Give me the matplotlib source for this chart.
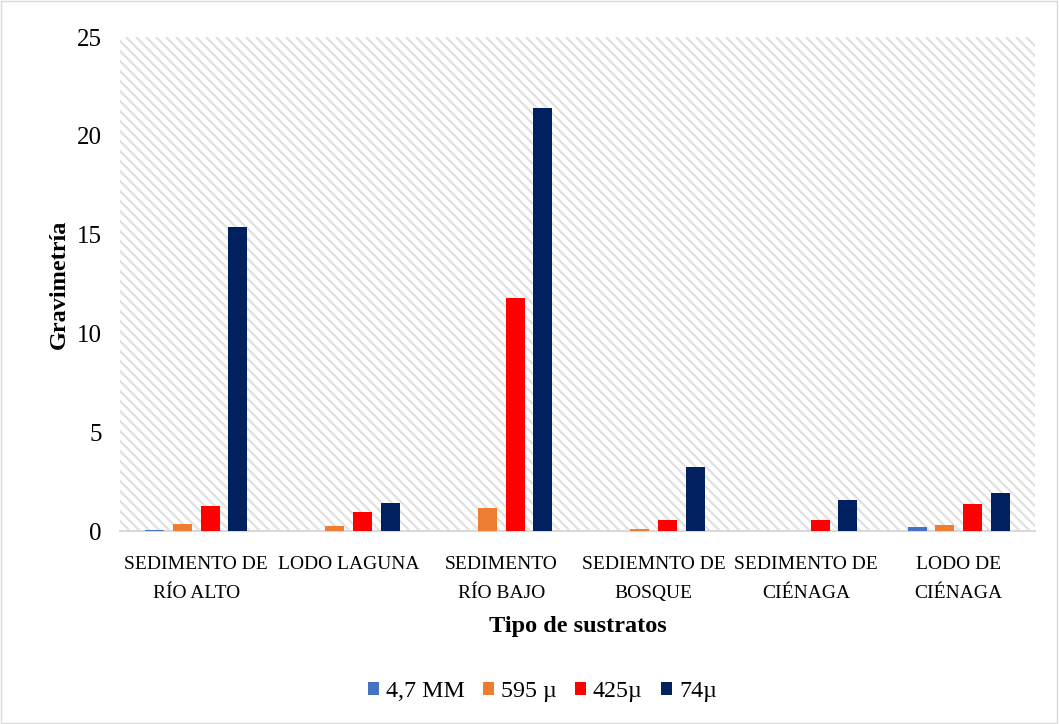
import matplotlib
matplotlib.use("Agg")
import matplotlib.pyplot as plt
from matplotlib.patches import Rectangle
from matplotlib.collections import LineCollection
import numpy as np

categories = ["SEDIMENTO DE\nRÍO ALTO", "LODO LAGUNA", "SEDIMENTO\nRÍO BAJO",
              "SEDIEMNTO DE\nBOSQUE", "SEDIMENTO DE\nCIÉNAGA", "LODO DE\nCIÉNAGA"]
series_names = ["4,7 MM", "595 µ", "425µ", "74µ"]
v_47mm = [0.07, 0.0, 0.0, 0.0, 0.0, 0.20]
v_595 = [0.35, 0.25, 1.15, 0.09, 0.0, 0.32]
v_425 = [1.27, 0.96, 11.8, 0.56, 0.56, 1.35]
v_74 = [15.4, 1.43, 21.4, 3.25, 1.57, 1.92]
colors = ["#4472C4", "#ED7D31", "#FF0000", "#002060"]
yticks = [0, 5, 10, 15, 20, 25]

plt.rcParams['font.family'] = ['Liberation Serif', 'DejaVu Serif']

W, H = 1059, 724
fig = plt.figure(figsize=(W / 100, H / 100), dpi=100)
fig.patches.append(Rectangle((0.001, 0.001), 0.997, 0.997, transform=fig.transFigure,
                             fill=False, edgecolor='#d9d9d9', linewidth=1))
pos = [120 / W, 1 - 531 / H, 915 / W, 494 / H]

# background hatch (decorative, in pixel units)
bg = fig.add_axes(pos, zorder=0)
bg.set_xlim(0, 915)
bg.set_ylim(0, 494)
bg.axis('off')
segs = []
for c in np.arange(0, 915 + 494 + 10, 10):
    segs.append([(c - 494, 494), (c, 0)])
bg.add_collection(LineCollection(segs, colors='#e0e0e0', linewidths=1.6, clip_on=True))

ax = fig.add_axes(pos, zorder=1)
ax.set_facecolor('none')

x = np.arange(len(categories))
w = 0.125
step = 0.182
allv = [v_47mm, v_595, v_425, v_74]
for i, (vals, c, n) in enumerate(zip(allv, colors, series_names)):
    ax.bar(x + (i - 1.5) * step, vals, width=w, color=c, label=n, zorder=4)

ax.set_xlim(-0.5, len(categories) - 0.5)
ax.set_ylim(0, 25)
ax.set_yticks(yticks)
ax.set_yticklabels([str(t) for t in yticks], fontsize=18)
ax.set_xticks(x)
ax.set_xticklabels(categories, fontsize=14, linespacing=1.95)
ax.tick_params(axis='both', length=0)
ax.tick_params(axis='x', pad=18)
ax.tick_params(axis='y', pad=13)
for s in ['top', 'right', 'left']:
    ax.spines[s].set_visible(False)
ax.spines['bottom'].set_color('#d9d9d9')
ax.spines['bottom'].set_linewidth(1.5)
ax.spines['bottom'].set_zorder(3)

ax.set_ylabel("Gravimetría", fontsize=17.5, fontweight='bold', labelpad=5)
ax.set_xlabel("Tipo de sustratos", fontsize=17.5, fontweight='bold', labelpad=10)

fig.legend(loc='center', bbox_to_anchor=(0.512, 0.045), ncol=4, frameon=False,
           fontsize=17.3, handlelength=0.46, handleheight=0.46, handletextpad=0.3,
           columnspacing=0.75)

fig.savefig("out.png", dpi=100)
